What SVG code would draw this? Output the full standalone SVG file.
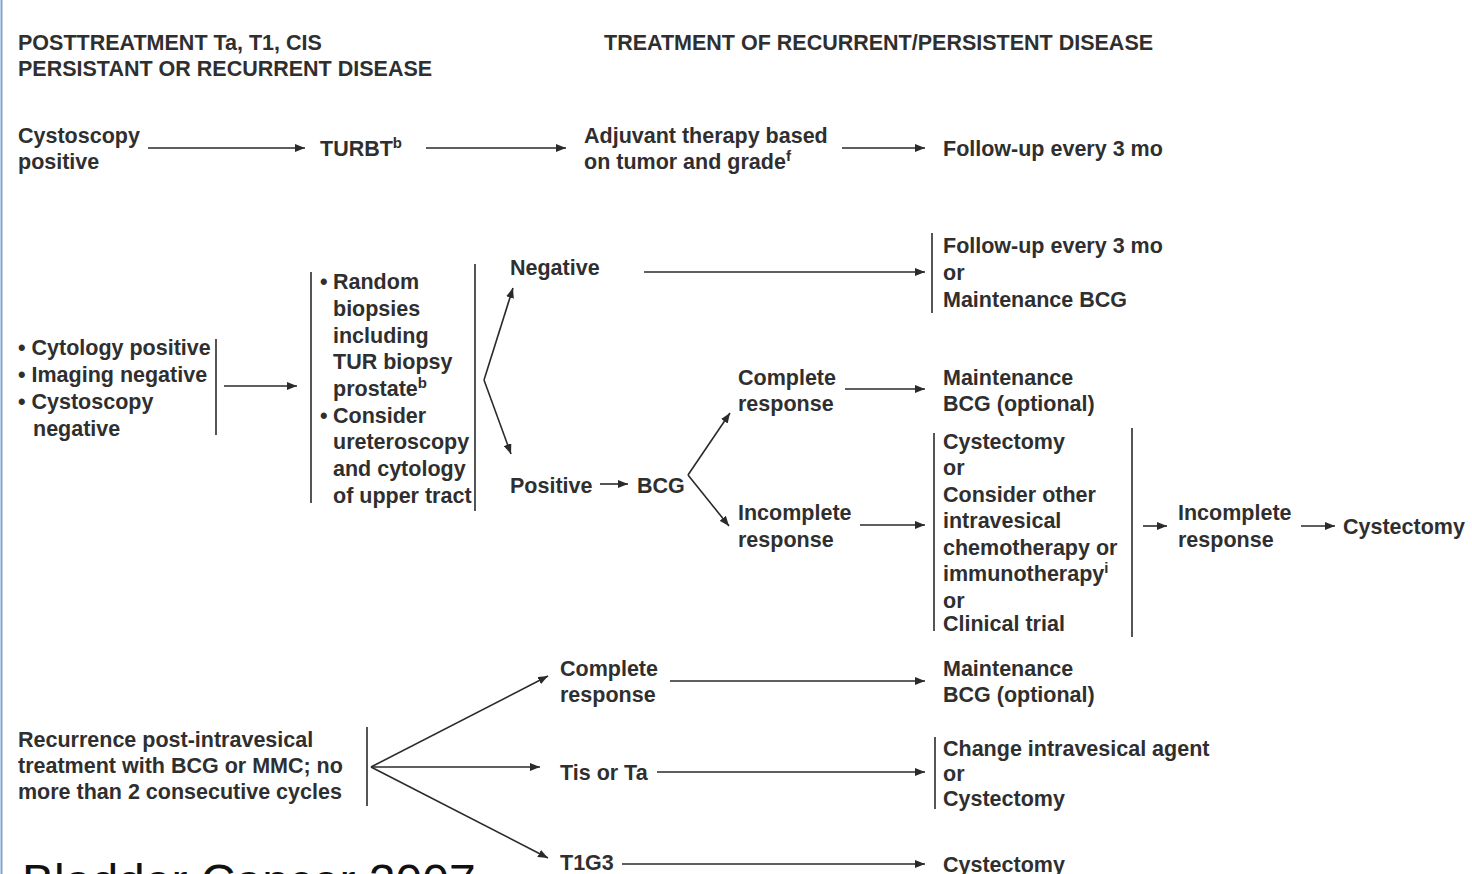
<svg xmlns="http://www.w3.org/2000/svg" width="1472" height="874" viewBox="0 0 1472 874">
<style>
.t{font-family:"Liberation Sans",Arial,sans-serif;font-weight:bold;font-size:21.5px;fill:#2f2f2f}
.sup{font-size:15px}
.ln{stroke:#2a2a2a;stroke-width:1.6;fill:none}
.ar{stroke:#2a2a2a;stroke-width:1.6;fill:none;marker-end:url(#ah)}
.bar{stroke:#2a2a2a;stroke-width:1.6}
</style>
<defs>
<marker id="ah" viewBox="0 0 10 8" refX="10" refY="4" markerWidth="10" markerHeight="8" markerUnits="userSpaceOnUse" orient="auto">
<path d="M0,0 L10,4 L0,8 Z" fill="#2a2a2a"/>
</marker>
</defs>
<rect width="1472" height="874" fill="#ffffff"/>
<line x1="1.5" y1="0" x2="1.5" y2="874" stroke="#7ea3cf" stroke-width="2"/>

<g id="headers">
<text class="t" x="18" y="50">POSTTREATMENT Ta, T1, CIS</text>
<text class="t" x="18" y="76">PERSISTANT OR RECURRENT DISEASE</text>
<text class="t" x="604" y="50">TREATMENT OF RECURRENT/PERSISTENT DISEASE</text>
</g>

<g id="cysto-positive"><text class="t" x="18" y="143">Cystoscopy</text><text class="t" x="18" y="169">positive</text></g>
<g id="turbt"><text class="t" x="320" y="156">TURBT<tspan class="sup" dy="-8">b</tspan></text></g>
<g id="adjuvant"><text class="t" x="584" y="143">Adjuvant therapy based</text><text class="t" x="584" y="169">on tumor and grade<tspan class="sup" dy="-8">f</tspan></text></g>
<g id="followup1"><text class="t" x="943" y="156">Follow-up every 3 mo</text></g>

<g id="cytology">
<text class="t" x="18" y="355">• Cytology positive</text>
<text class="t" x="18" y="382">• Imaging negative</text>
<text class="t" x="18" y="409">• Cystoscopy</text>
<text class="t" x="33" y="436">negative</text>
<line class="bar" x1="216" y1="339" x2="216" y2="435"/>
</g>

<g id="biopsies">
<line class="bar" x1="311" y1="272" x2="311" y2="503"/>
<text class="t" x="320" y="289">•</text>
<text class="t" x="333" y="289">Random</text>
<text class="t" x="333" y="316">biopsies</text>
<text class="t" x="333" y="343">including</text>
<text class="t" x="333" y="369">TUR biopsy</text>
<text class="t" x="333" y="396">prostate<tspan class="sup" dy="-8">b</tspan></text>
<text class="t" x="320" y="423">•</text>
<text class="t" x="333" y="423">Consider</text>
<text class="t" x="333" y="449">ureteroscopy</text>
<text class="t" x="333" y="476">and cytology</text>
<text class="t" x="333" y="503">of upper tract</text>
<line class="bar" x1="475" y1="264" x2="475" y2="511"/>
</g>

<g id="negative"><text class="t" x="510" y="275">Negative</text></g>
<g id="followup2">
<line class="bar" x1="932" y1="233" x2="932" y2="313"/>
<text class="t" x="943" y="253">Follow-up every 3 mo</text>
<text class="t" x="943" y="280">or</text>
<text class="t" x="943" y="307">Maintenance BCG</text>
</g>
<g id="positive"><text class="t" x="510" y="493">Positive</text></g>
<g id="bcg"><text class="t" x="637" y="493">BCG</text></g>
<g id="complete1"><text class="t" x="738" y="385">Complete</text><text class="t" x="738" y="411">response</text></g>
<g id="maint1"><text class="t" x="943" y="385">Maintenance</text><text class="t" x="943" y="411">BCG (optional)</text></g>
<g id="incomplete1"><text class="t" x="738" y="520">Incomplete</text><text class="t" x="738" y="547">response</text></g>
<g id="options">
<line class="bar" x1="934" y1="433" x2="934" y2="631"/>
<text class="t" x="943" y="449">Cystectomy</text>
<text class="t" x="943" y="475">or</text>
<text class="t" x="943" y="502">Consider other</text>
<text class="t" x="943" y="528">intravesical</text>
<text class="t" x="943" y="555">chemotherapy or</text>
<text class="t" x="943" y="581">immunotherapy<tspan class="sup" dy="-8">i</tspan></text>
<text class="t" x="943" y="608">or</text>
<text class="t" x="943" y="631">Clinical trial</text>
<line class="bar" x1="1132" y1="428" x2="1132" y2="637"/>
</g>
<g id="incomplete2"><text class="t" x="1178" y="520">Incomplete</text><text class="t" x="1178" y="547">response</text></g>
<g id="cystectomy1"><text class="t" x="1343" y="534">Cystectomy</text></g>

<g id="recurrence">
<text class="t" x="18" y="747">Recurrence post-intravesical</text>
<text class="t" x="18" y="773">treatment with BCG or MMC; no</text>
<text class="t" x="18" y="799">more than 2 consecutive cycles</text>
<line class="bar" x1="367" y1="727" x2="367" y2="806"/>
</g>
<g id="complete2"><text class="t" x="560" y="676">Complete</text><text class="t" x="560" y="702">response</text></g>
<g id="maint2"><text class="t" x="943" y="676">Maintenance</text><text class="t" x="943" y="702">BCG (optional)</text></g>
<g id="tis"><text class="t" x="560" y="780">Tis or Ta</text></g>
<g id="change">
<line class="bar" x1="935" y1="737" x2="935" y2="809"/>
<text class="t" x="943" y="756">Change intravesical agent</text>
<text class="t" x="943" y="781">or</text>
<text class="t" x="943" y="806">Cystectomy</text>
</g>
<g id="t1g3"><text class="t" x="560" y="870">T1G3</text></g>
<g id="cystectomy2"><text class="t" x="943" y="872">Cystectomy</text></g>

<g id="connectors">
<line class="ar" x1="148" y1="148" x2="305" y2="148"/>
<line class="ar" x1="426" y1="148" x2="566" y2="148"/>
<line class="ar" x1="842" y1="148" x2="925" y2="148"/>
<line class="ar" x1="224" y1="386" x2="297" y2="386"/>
<line class="ar" x1="484" y1="380" x2="513" y2="288"/>
<line class="ar" x1="484" y1="380" x2="511" y2="454"/>
<line class="ar" x1="644" y1="272" x2="925" y2="272"/>
<line class="ar" x1="600" y1="484" x2="628" y2="484"/>
<line class="ar" x1="688" y1="475" x2="730" y2="413"/>
<line class="ar" x1="688" y1="475" x2="729" y2="526"/>
<line class="ar" x1="845" y1="389" x2="925" y2="389"/>
<line class="ar" x1="860" y1="525" x2="925" y2="525"/>
<line class="ar" x1="1143" y1="526" x2="1167" y2="526"/>
<line class="ar" x1="1301" y1="526" x2="1335" y2="526"/>
<line class="ar" x1="371" y1="767" x2="548" y2="676"/>
<line class="ar" x1="371" y1="767" x2="540" y2="767"/>
<line class="ar" x1="371" y1="767" x2="548" y2="858"/>
<line class="ar" x1="670" y1="681" x2="925" y2="681"/>
<line class="ar" x1="657" y1="772" x2="925" y2="772"/>
<line class="ar" x1="622" y1="864" x2="925" y2="864"/>
</g>

<g id="caption">
<text x="22" y="898" style="font-family:'Liberation Sans',Arial,sans-serif;font-size:48px;fill:#111">Bladder Cancer 2007</text>
</g>
</svg>
